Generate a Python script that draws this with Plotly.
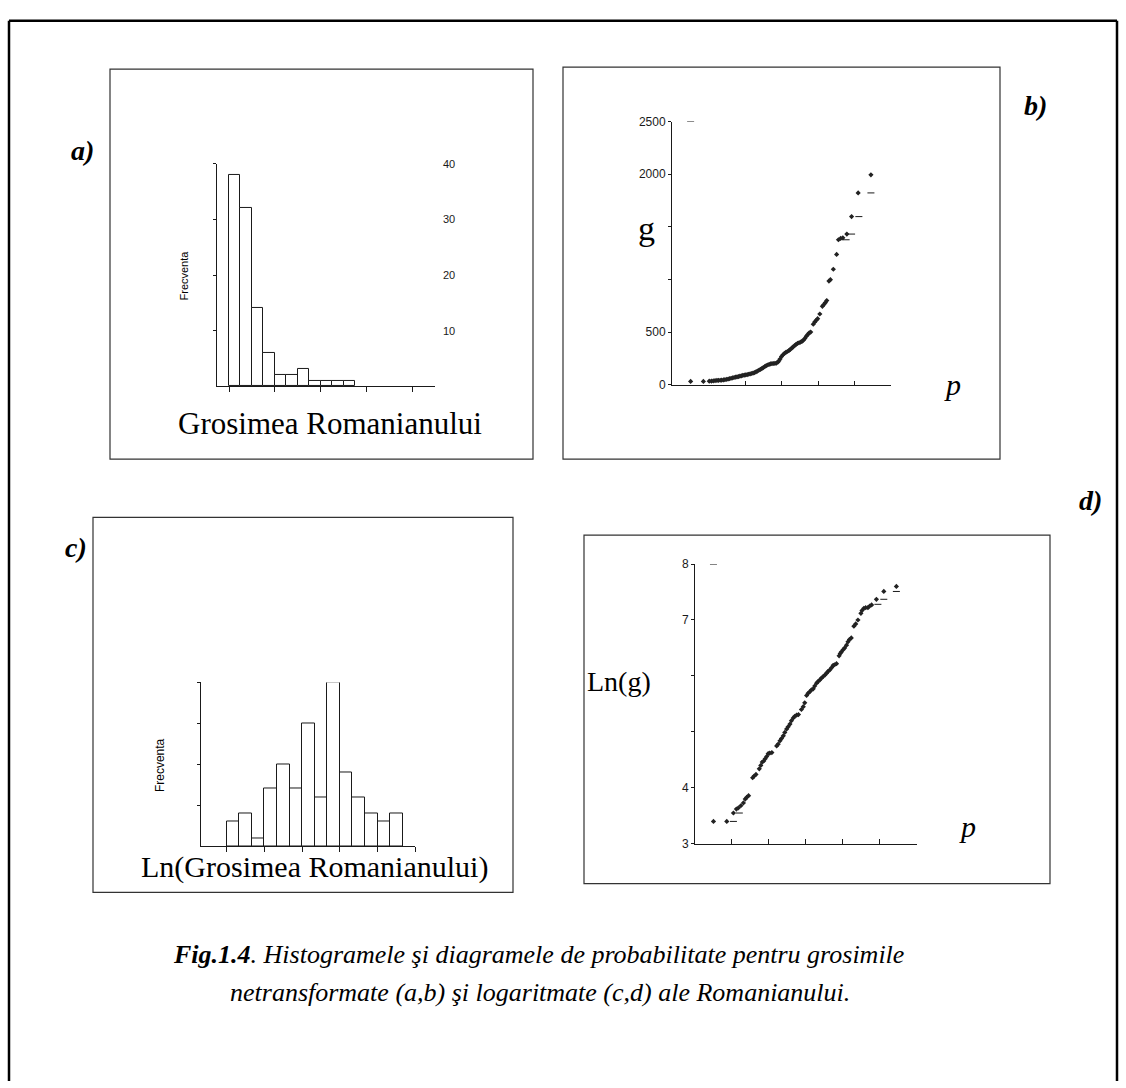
import plotly.graph_objects as go

W, H = 1126, 1088

# ---------------- data ----------------
# a) histogram of untransformed thickness (bin start in g units, width 200)
a_bin_start = [0, 200, 400, 600, 800, 1000, 1200, 1400, 1600, 1800, 2000]
a_counts = [38, 32, 14, 6, 2, 2, 3, 1, 1, 1, 1]
a_ytick_labels = ["10", "20", "30", "40"]

# b) probability plot of g (x = normal score position, y = g)
b_p = [0.51, 0.86, 1.02, 1.08, 1.13, 1.18, 1.23, 1.27, 1.32, 1.36, 1.41, 1.45, 1.50,
       1.54, 1.58, 1.62, 1.66, 1.70, 1.74, 1.78, 1.82, 1.86, 1.90, 1.94, 1.98, 2.02,
       2.06, 2.10, 2.14, 2.18, 2.22, 2.26, 2.30, 2.34, 2.38, 2.42, 2.46, 2.50, 2.54,
       2.58, 2.62, 2.66, 2.70, 2.74, 2.78, 2.82, 2.86, 2.90, 2.93, 2.96, 3.00, 3.04,
       3.08, 3.12, 3.16, 3.20, 3.24, 3.28, 3.32, 3.36, 3.40, 3.44, 3.48, 3.52, 3.56,
       3.60, 3.64, 3.68, 3.72, 3.76, 3.80, 3.87, 3.91, 3.95, 3.99, 4.05, 4.12, 4.16,
       4.20, 4.24, 4.30, 4.34, 4.42, 4.51, 4.56, 4.62, 4.68, 4.79, 4.92, 5.10, 5.45]
b_g = [32, 32, 34, 35, 37, 40, 41, 42, 43, 44, 46, 48, 52,
       55, 58, 62, 65, 69, 72, 75, 78, 82, 85, 89, 92, 94,
       97, 100, 103, 107, 111, 116, 122, 130, 138, 146, 154, 163, 172,
       181, 188, 193, 198, 201, 202, 203, 206, 214, 228, 245, 268, 285,
       298, 308, 316, 324, 336, 348, 360, 372, 384, 393, 399, 405, 412,
       424, 440, 460, 478, 492, 500, 575, 595, 612, 628, 672, 745, 762,
       780, 800, 985, 998, 1097, 1238, 1377, 1390, 1395, 1431, 1597, 1822, 1994]
b_dash_p = [0.51, 4.77, 4.92, 5.12, 5.45]
b_dash_g = [2500, 1377, 1431, 1597, 1822]
b_ytick_vals = [0, 500, 1000, 1500, 2000, 2500]
b_ytick_text = ["0", "500", "", "", "2000", "2500"]

# c) histogram of ln(g) (bin start, width 0.3)
c_bin_start = [3.4, 3.7, 4.0, 4.3, 4.6, 4.9, 5.2, 5.5, 5.8, 6.1, 6.4, 6.7, 7.0, 7.3]
c_counts = [3, 4, 1, 7, 10, 7, 15, 6, 20, 9, 6, 4, 3, 4]

# d) probability plot of ln(g)
d_p = [0.50, 0.86, 1.04, 1.12, 1.17, 1.24, 1.31, 1.36, 1.40, 1.45, 1.56, 1.60, 1.65,
       1.74, 1.78, 1.82, 1.86, 1.90, 1.94, 1.98, 2.02, 2.08, 2.21, 2.25, 2.30, 2.34,
       2.39, 2.43, 2.48, 2.52, 2.57, 2.61, 2.66, 2.70, 2.75, 2.80, 2.88, 2.93, 2.97,
       3.02, 3.06, 3.11, 3.15, 3.20, 3.24, 3.29, 3.33, 3.38, 3.42, 3.47, 3.52, 3.56,
       3.60, 3.65, 3.70, 3.74, 3.78, 3.83, 3.90, 3.93, 3.96, 4.01, 4.05, 4.10, 4.14,
       4.18, 4.23, 4.30, 4.35, 4.41, 4.49, 4.52, 4.57, 4.62, 4.68, 4.73, 4.78, 4.91,
       5.11, 5.45]
d_lng = [3.40, 3.40, 3.55, 3.62, 3.64, 3.68, 3.73, 3.80, 3.83, 3.86, 4.18, 4.21, 4.24,
         4.34, 4.40, 4.46, 4.48, 4.52, 4.56, 4.61, 4.62, 4.63, 4.75, 4.78, 4.84, 4.88,
         4.93, 4.99, 5.05, 5.09, 5.14, 5.20, 5.25, 5.28, 5.30, 5.31, 5.40, 5.45, 5.52,
         5.65, 5.69, 5.72, 5.75, 5.77, 5.82, 5.87, 5.90, 5.93, 5.96, 5.99, 6.02, 6.05,
         6.08, 6.11, 6.15, 6.19, 6.20, 6.22, 6.36, 6.40, 6.43, 6.47, 6.50, 6.55, 6.61,
         6.65, 6.68, 6.89, 6.93, 7.00, 7.12, 7.17, 7.21, 7.22, 7.22, 7.25, 7.27, 7.37,
         7.51, 7.60]
d_dash_p = [0.50, 1.04, 1.20, 4.95, 5.11, 5.45]
d_dash_lng = [8.0, 3.40, 3.55, 7.28, 7.37, 7.51]
d_ytick_vals = [3, 4, 5, 6, 7, 8]
d_ytick_text = ["3", "4", "", "", "7", "8"]

caption_1 = "<b><i>Fig.1.4</i></b><i>. Histogramele şi diagramele de probabilitate pentru grosimile</i>"
caption_2 = "<i>netransformate (a,b) şi logaritmate (c,d) ale Romanianului.</i>"

# ---------------- helpers ----------------
def px(x):
    return x / W

def py(y):
    return 1 - y / H

SERIF = "Liberation Serif"
SANS = "Liberation Sans"
INK = "#1a1a1a"

fig = go.Figure()

# a) histogram
fig.add_trace(go.Bar(x=[s + 100 for s in a_bin_start], y=a_counts, width=200,
                     marker=dict(color="white", line=dict(color=INK, width=1)),
                     xaxis="x", yaxis="y", showlegend=False))
# b) probability plot
fig.add_trace(go.Scatter(x=b_p, y=b_g, mode="markers",
                         marker=dict(symbol="diamond", size=4, color="#222"),
                         xaxis="x2", yaxis="y2", showlegend=False))
fig.add_trace(go.Scatter(x=b_dash_p, y=b_dash_g, mode="markers",
                         marker=dict(symbol="line-ew", size=5, line=dict(color=INK, width=1)),
                         xaxis="x2", yaxis="y2", showlegend=False))
# c) histogram
fig.add_trace(go.Bar(x=[s + 0.15 for s in c_bin_start], y=c_counts, width=0.3,
                     marker=dict(color="white", line=dict(color=INK, width=1)),
                     xaxis="x3", yaxis="y3", showlegend=False))
# d) probability plot
fig.add_trace(go.Scatter(x=d_p, y=d_lng, mode="markers",
                         marker=dict(symbol="diamond", size=4, color="#222"),
                         xaxis="x4", yaxis="y4", showlegend=False))
fig.add_trace(go.Scatter(x=d_dash_p, y=d_dash_lng, mode="markers",
                         marker=dict(symbol="line-ew", size=5, line=dict(color=INK, width=1)),
                         xaxis="x4", yaxis="y4", showlegend=False))

axis_common = dict(showline=True, linecolor=INK, linewidth=1, showgrid=False,
                   zeroline=False, fixedrange=True, tickcolor=INK, tickwidth=1)
tickfont = dict(family=SANS, size=12, color=INK)

fig.update_layout(
    width=W, height=H, margin=dict(l=0, r=0, t=0, b=0),
    paper_bgcolor="white", plot_bgcolor="rgba(0,0,0,0)",
    bargap=0,
    # a
    xaxis=dict(domain=[px(217), px(435)], range=[-210, 3598], anchor="y",
               tickvals=[0, 800, 1600, 2400, 3200], ticks="outside", ticklen=5,
               showticklabels=False, **axis_common),
    yaxis=dict(domain=[py(384), py(159)], range=[0, 40], anchor="x",
               tickvals=[10, 20, 30, 40], ticks="outside", ticklen=3,
               showticklabels=False, **axis_common),
    # b
    xaxis2=dict(domain=[px(672), px(891)], range=[0, 6], anchor="y2",
                tickvals=[2, 3, 4, 5, 6], ticks="inside", ticklen=4,
                showticklabels=False, **axis_common),
    yaxis2=dict(domain=[py(382.7), py(116)], range=[0, 2500], anchor="x2",
                tickvals=b_ytick_vals, ticktext=b_ytick_text, ticks="outside",
                ticklen=3, tickfont=tickfont, **axis_common),
    # c
    xaxis3=dict(domain=[px(201), px(415.4)], range=[2.788, 7.9], anchor="y3",
                tickvals=[3.4, 4.3, 5.2, 6.1, 7.0, 7.9], ticks="outside", ticklen=5,
                showticklabels=False, **axis_common),
    yaxis3=dict(domain=[py(850.2), py(684.3)], range=[0, 20], anchor="x3",
                tickvals=[5, 10, 15, 20], ticks="outside", ticklen=3,
                showticklabels=False, **axis_common),
    # d
    xaxis4=dict(domain=[px(695), px(916.7)], range=[0, 6], anchor="y4",
                tickvals=[1, 2, 3, 4, 5, 6], ticks="inside", ticklen=5,
                showticklabels=False, **axis_common),
    yaxis4=dict(domain=[py(847.7), py(564.3)], range=[3, 8], anchor="x4",
                tickvals=d_ytick_vals, ticktext=d_ytick_text, ticks="outside",
                ticklen=3, tickfont=tickfont, **axis_common),
)

shapes = []
def box(x0, y0, x1, y1, color="#333", width=1.2):
    shapes.append(dict(type="rect", xref="paper", yref="paper",
                       x0=px(x0), x1=px(x1), y0=py(y1), y1=py(y0),
                       line=dict(color=color, width=width), fillcolor="rgba(0,0,0,0)"))

def line(x0, y0, x1, y1, width=2.5):
    shapes.append(dict(type="line", xref="paper", yref="paper",
                       x0=px(x0), x1=px(x1), y0=py(y0), y1=py(y1),
                       line=dict(color="black", width=width)))

# outer frame
line(9, 14, 1117, 14)
line(9, 14, 9, 1088)
line(1117, 14, 1117, 1088)
# panel frames
box(110, 63, 533, 458)
box(563, 61, 1000, 458)
box(93, 517, 513, 897)
box(584, 535, 1050, 888)
fig.update_layout(shapes=shapes)

ann = []
def text(x, y, s, size, family=SERIF, angle=0, color="black", xanchor="center"):
    ann.append(dict(x=px(x), y=py(y), xref="paper", yref="paper", text=s,
                    showarrow=False, textangle=angle, xanchor=xanchor, yanchor="middle",
                    font=dict(family=family, size=size, color=color)))

# right-side tick labels of panel a
for v, lab in zip([10, 20, 30, 40], a_ytick_labels):
    ann.append(dict(x=px(449), y=v, xref="paper", yref="y", text=lab, showarrow=False,
                    xanchor="center", yanchor="middle",
                    font=dict(family=SANS, size=11, color=INK)))

text(183, 272, "Frecventa", 11, family=SANS, angle=-90)
text(160, 768, "Frecventa", 12, family=SANS, angle=-90)
text(330, 422, "Grosimea Romanianului", 31)
text(314, 871, "Ln(Grosimea Romanianului)", 30)
text(646, 224, "g", 34)
text(952, 382, "<i>p</i>", 30)
text(619, 683, "Ln(g)", 28)
text(967, 830, "<i>p</i>", 30)
text(82, 145, "<b><i>a)</i></b>", 28)
text(1035, 100, "<b><i>b)</i></b>", 28)
text(76, 548, "<b><i>c)</i></b>", 28)
text(1090, 500, "<b><i>d)</i></b>", 28)
text(538, 960, caption_1, 26)
text(540, 998, caption_2, 26)
fig.update_layout(annotations=ann)

fig.write_html("out.html")
